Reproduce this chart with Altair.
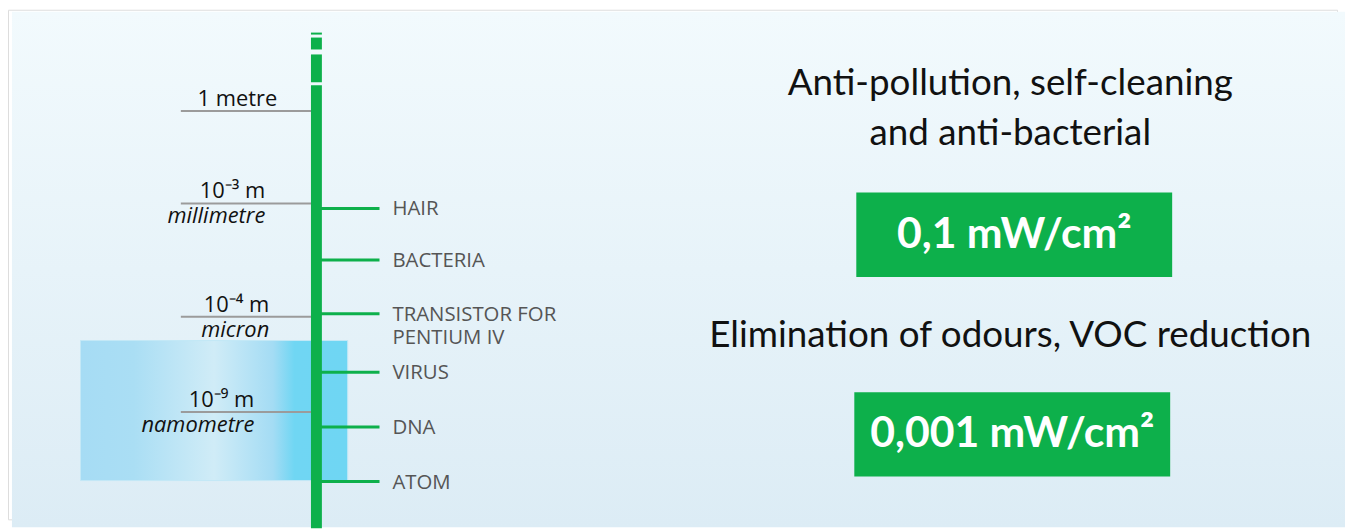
import altair as alt
import pandas as pd

# ---- data (diagram positions in picture units) ----
scale_values = ["1 metre", "10⁻³ m", "10⁻⁴ m", "10⁻⁹ m"]
scale_names = ["", "millimetre", "micron", "namometre"]
scale_y = [110, 203, 317, 413]
scale_label_x = [279, 267, 271, 256]

objects = ["HAIR", "BACTERIA", "TRANSISTOR FOR\nPENTIUM IV", "VIRUS", "DNA", "ATOM"]
object_y = [208, 260, 314, 373, 428, 483]

bar_start = [31, 36, 53, 84]
bar_end = [33, 48, 81, 530]

headings = ["Anti-pollution, self-cleaning\nand anti-bacterial", "Elimination of odours, VOC reduction"]
heading_y = [83, 337]
values = ["0,1 mW/cm²", "0,001 mW/cm²"]
value_box_x = [862, 860]
value_box_x2 = [1180, 1178]
value_box_y = [192, 393]
value_box_y2 = [277, 478]

GREEN = "#0db04b"
W, H = 1338, 513
X = alt.Scale(domain=[8, 8 + W], nice=False, zero=False)
Y = alt.Scale(domain=[8 + H, 8], nice=False, zero=False)

def xq(f):
    return alt.X(f, type="quantitative", scale=X, axis=None)

def yq(f):
    return alt.Y(f, type="quantitative", scale=Y, axis=None)

bg_df = pd.DataFrame({"x": [12], "x2": [1354], "y": [10], "y2": [529]})
bg = alt.Chart(bg_df).mark_rect(
    color=alt.Gradient(gradient="linear", x1=0, x2=0, y1=0, y2=1,
                       stops=[alt.GradientStop(offset=0, color="#f2fafd"),
                              alt.GradientStop(offset=1, color="#dcecf5")])
).encode(x=xq("x"), x2="x2", y=yq("y"), y2="y2")

box_df = pd.DataFrame({"x": [81], "x2": [350], "y": [341], "y2": [482]})
box = alt.Chart(box_df).mark_rect(
    stroke="#c4e8f6", strokeWidth=1,
    color=alt.Gradient(gradient="linear", x1=0, x2=1, y1=0, y2=0,
                       stops=[alt.GradientStop(offset=0, color="#a6dcf4"),
                              alt.GradientStop(offset=0.2, color="#aadef4"),
                              alt.GradientStop(offset=0.5, color="#d0ecf7"),
                              alt.GradientStop(offset=0.72, color="#a4dcf4"),
                              alt.GradientStop(offset=0.8, color="#70d6f3"),
                              alt.GradientStop(offset=1, color="#6fd6f3")])
).encode(x=xq("x"), x2="x2", y=yq("y"), y2="y2")

lvl_df = pd.DataFrame({"value": scale_values, "name": scale_names,
                       "y": scale_y, "lx": scale_label_x,
                       "x0": [182] * 4, "x1": [313] * 4})
grey_lines = alt.Chart(lvl_df).mark_rule(color="#9b9b9b", strokeWidth=2).encode(
    x=xq("x0"), x2="x1", y=yq("y"))
lvl_vals = alt.Chart(lvl_df).mark_text(
    align="right", baseline="alphabetic", dy=-5, font="Open Sans", fontSize=22,
    color="#111111"
).encode(x=xq("lx"), y=yq("y"), text="value")
lvl_names = alt.Chart(lvl_df).mark_text(
    align="right", baseline="alphabetic", dy=20, font="Open Sans", fontSize=22,
    fontStyle="italic", color="#111111"
).encode(x=xq("lx"), y=yq("y"), text="name")

obj_df = pd.DataFrame({"label": objects, "y": object_y,
                       "x0": [318] * 6, "x1": [382] * 6, "lx": [395] * 6})
ticks = alt.Chart(obj_df).mark_rule(color=GREEN, strokeWidth=3).encode(
    x=xq("x0"), x2="x1", y=yq("y"))
obj_labels = alt.Chart(obj_df).mark_text(
    align="left", baseline="alphabetic", dy=7, font="Open Sans", fontSize=20.5,
    color="#555555", lineBreak="\n", lineHeight=24
).encode(x=xq("lx"), y=yq("y"), text="label")

bar_df = pd.DataFrame({"y": bar_start, "y2": bar_end,
                       "x": [313] * 4, "x2": [324] * 4})
bar = alt.Chart(bar_df).mark_rect(color=GREEN).encode(
    x=xq("x"), x2="x2", y=yq("y"), y2="y2")

head_df = pd.DataFrame({"text": headings, "y": heading_y, "x": [1017, 1017]})
heads = alt.Chart(head_df).mark_text(
    align="center", baseline="middle", font="Lato", fontSize=37,
    color="#111111", lineBreak="\n", lineHeight=50
).encode(x=xq("x"), y=yq("y"), text="text")

val_df = pd.DataFrame({"text": values, "x": value_box_x, "x2": value_box_x2,
                       "y": value_box_y, "y2": value_box_y2})
val_df["cx"] = (val_df["x"] + val_df["x2"]) / 2
val_df["cy"] = (val_df["y"] + val_df["y2"]) / 2
vboxes = alt.Chart(val_df).mark_rect(color=GREEN).encode(
    x=xq("x"), x2="x2", y=yq("y"), y2="y2")
vtexts = alt.Chart(val_df).mark_text(
    align="center", baseline="middle", font="Lato", fontWeight="bold", fontSize=43,
    color="white"
).encode(x=xq("cx"), y=yq("cy"), text="text")

chart = alt.layer(
    bg, box, grey_lines, lvl_vals, lvl_names, ticks, obj_labels, bar,
    heads, vboxes, vtexts
).properties(width=W, height=H, padding=0).configure_view(stroke=None).configure(
    background="white")

chart.save("out.html", embed_options={"renderer": "svg", "actions": False})
